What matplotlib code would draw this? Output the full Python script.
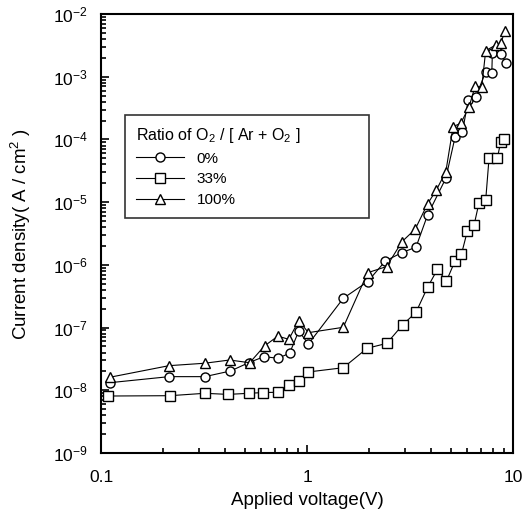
import matplotlib
matplotlib.use("Agg")
import matplotlib.pyplot as plt
from matplotlib.ticker import LogLocator, FixedLocator, NullFormatter

plt.rcParams['font.family'] = ['Liberation Sans', 'DejaVu Sans']
plt.rcParams['mathtext.fontset'] = 'custom'
plt.rcParams['mathtext.rm'] = 'Liberation Sans'
plt.rcParams['mathtext.it'] = 'Liberation Sans'
plt.rcParams['mathtext.default'] = 'regular'

# 0 % O2
v0 = [0.110, 0.214, 0.319, 0.425, 0.521, 0.618, 0.722, 0.823, 0.912, 1.016,
      1.50, 1.97, 2.40, 2.89, 3.38, 3.85, 4.72, 5.24, 5.68, 6.07,
      6.60, 7.37, 7.89, 7.94, 8.72, 9.28]
j0 = [1.32e-8, 1.65e-8, 1.65e-8, 2.03e-8, 2.75e-8, 3.44e-8, 3.24e-8, 3.89e-8, 8.8e-8, 5.47e-8,
      2.93e-7, 5.4e-7, 1.15e-6, 1.57e-6, 1.91e-6, 6.25e-6, 2.4e-5, 1.11e-4, 1.33e-4, 4.27e-4,
      4.8e-4, 1.2e-3, 1.13e-3, 2.37e-3, 2.3e-3, 1.64e-3]

# 33 % O2
v33 = [0.108, 0.216, 0.319, 0.414, 0.521, 0.611, 0.722, 0.816, 0.912, 1.016,
       1.50, 1.96, 2.44, 2.91, 3.38, 3.85, 4.30, 4.75, 5.24, 5.62,
       6.01, 6.47, 6.84, 7.37, 7.65, 8.39, 8.72, 9.04]
j33 = [8.1e-9, 8.2e-9, 8.95e-9, 8.6e-9, 8.95e-9, 9.2e-9, 9.3e-9, 1.2e-8, 1.41e-8, 1.96e-8,
       2.29e-8, 4.68e-8, 5.6e-8, 1.1e-7, 1.75e-7, 4.4e-7, 8.5e-7, 5.5e-7, 1.17e-6, 1.48e-6,
       3.5e-6, 4.3e-6, 9.8e-6, 1.08e-5, 5.0e-5, 5.0e-5, 9.2e-5, 1.0e-4]

# 100 % O2
v100 = [0.110, 0.214, 0.319, 0.421, 0.527, 0.622, 0.722, 0.816, 0.912, 1.016,
        1.50, 1.97, 2.435, 2.89, 3.35, 3.85, 4.25, 4.72, 5.12, 5.58,
        6.12, 6.55, 7.05, 7.37, 8.24, 8.72, 9.15]
j100 = [1.61e-8, 2.47e-8, 2.7e-8, 3.04e-8, 2.75e-8, 5.1e-8, 7.3e-8, 6.5e-8, 1.29e-7, 8.3e-8,
        1.01e-7, 7.5e-7, 9.4e-7, 2.34e-6, 3.7e-6, 9.4e-6, 1.57e-5, 3.06e-5, 1.6e-4, 1.81e-4,
        3.3e-4, 7.1e-4, 6.8e-4, 2.6e-3, 3.2e-3, 3.4e-3, 5.4e-3]

labels = ['0%', '33%', '100%']
x_ticks = [0.1, 1, 10]
x_ticklabels = ['0.1', '1', '10']
y_ticks = [1e-9, 1e-8, 1e-7, 1e-6, 1e-5, 1e-4, 1e-3, 1e-2]
y_ticklabels = [r'$10^{-9}$', r'$10^{-8}$', r'$10^{-7}$', r'$10^{-6}$',
                r'$10^{-5}$', r'$10^{-4}$', r'$10^{-3}$', r'$10^{-2}$']

fig = plt.figure(figsize=(5.22, 5.14), dpi=100)
ax = fig.add_axes([101/522, 61/514, 412/522, 439/514])

kw = dict(color='black', lw=0.8, markersize=6.5, markerfacecolor='white',
          markeredgecolor='black', markeredgewidth=1.0)
ax.plot(v0, j0, marker='o', label=labels[0], **kw)
ax.plot(v33, j33, marker='s', label=labels[1], **kw)
ax.plot(v100, j100, marker='^', label=labels[2], **kw)

ax.set_xscale('log')
ax.set_yscale('log')
ax.set_xlim(0.1, 10)
ax.set_ylim(1e-9, 1e-2)

ax.xaxis.set_major_locator(FixedLocator(x_ticks))
ax.set_xticklabels(x_ticklabels)
ax.yaxis.set_major_locator(FixedLocator(y_ticks))
ax.set_yticklabels(y_ticklabels)
ax.xaxis.set_minor_locator(LogLocator(base=10, subs=range(2, 10)))
ax.yaxis.set_minor_locator(LogLocator(base=10, subs=range(2, 10)))
ax.xaxis.set_minor_formatter(NullFormatter())
ax.yaxis.set_minor_formatter(NullFormatter())

ax.tick_params(which='both', direction='in', top=False, right=False, labelsize=12.5, width=1.2)
ax.tick_params(which='major', length=6)
ax.tick_params(which='minor', length=3.5)
ax.tick_params(axis='x', which='major', pad=12)
ax.tick_params(axis='y', which='major', pad=9.5)
for s in ax.spines.values():
    s.set_linewidth(1.5)

ax.set_xlabel('Applied voltage(V)', fontsize=13.5, labelpad=5)
ax.set_ylabel('Current density( A / cm$^2$ )', fontsize=13.5, labelpad=14)

leg = ax.legend(loc='upper left', bbox_to_anchor=(0.058, 0.544, 0.592, 0.226),
                mode='expand', borderaxespad=0,
                title=r'Ratio of O$_2$ / [ Ar + O$_2$ ]',
                fontsize=11, title_fontsize=11.5, frameon=True, fancybox=False,
                edgecolor='black', handlelength=3.2, borderpad=0.7,
                labelspacing=0.45, alignment='left')
leg.get_frame().set_linewidth(1.2)

fig.savefig('out.png', dpi=100)
